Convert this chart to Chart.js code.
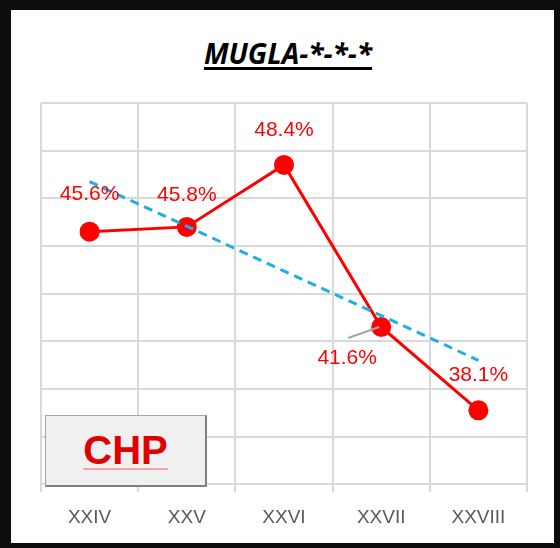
<!DOCTYPE html>
<html>
<head>
    <title>MUGLA</title>
    <script src="https://cdn.jsdelivr.net/npm/chart.js"></script>
    <style>
        html, body {
            margin: 0;
            padding: 0;
            background: #0d0d0d;
            overflow: hidden;
        }
        #inner {
            position: absolute;
            left: 11px;
            top: 10px;
            width: 543px;
            height: 533px;
            background: #ffffff;
        }
        #title {
            position: absolute;
            left: 0;
            top: 37px;
            width: 576px;
            text-align: center;
            font: italic bold 28px "Open Sans", sans-serif;
            line-height: 32px;
            color: #000;
            text-decoration: underline;
            text-decoration-thickness: 3px;
            text-underline-offset: 3px;
        }
        #wrap {
            position: absolute;
            left: 0;
            top: 0;
            width: 560px;
            height: 548px;
        }
        #badge {
            position: absolute;
            left: 45px;
            top: 415px;
            width: 159px;
            height: 69px;
            background: #f0f0f0;
            border: 1px solid #a6a6a6;
            border-right: 2px solid #7f7f7f;
            border-bottom: 2px solid #7f7f7f;
            text-align: center;
            font: bold 40px "Liberation Sans", Arial, sans-serif;
            line-height: 69px;
            color: #e00000;
            text-decoration: underline;
            text-decoration-color: #eda5a5;
            text-decoration-thickness: 2px;
            text-underline-offset: 4px;
        }
    </style>
</head>
<body>
    <div id="inner"></div>
    <div id="title">MUGLA-*-*-*</div>
    <div id="wrap"><canvas id="chart" width="560" height="548"></canvas></div>
    <div id="badge">CHP</div>

    <script>
        const categories = ['XXIV', 'XXV', 'XXVI', 'XXVII', 'XXVIII'];
        const shares = [45.6, 45.8, 48.4, 41.6, 38.1];
        // trendline end points
        const trend = [47.7, null, null, null, 40.2];
        const yMin = 35;
        const yMax = 51;
        const yStep = 2;

        // label placement relative to each point
        const labelOffsets = [[0, -37], [0, -32], [0, -35], [-34, 31], [0, -35]];

        const labelPlugin = {
            id: 'pointLabels',
            afterDatasetsDraw(chart) {
                const ctx = chart.ctx;
                const meta = chart.getDatasetMeta(1);
                ctx.save();
                meta.data.forEach((pt, i) => {
                    const [dx, dy] = labelOffsets[i];
                    if (i === 3) {
                        // leader line
                        ctx.strokeStyle = '#a6a6a6';
                        ctx.lineWidth = 2;
                        ctx.beginPath();
                        ctx.moveTo(pt.x - 33, pt.y + 11);
                        ctx.lineTo(pt.x - 2, pt.y);
                        ctx.stroke();
                    }
                    ctx.fillStyle = '#ff0000';
                    ctx.font = '21px "Liberation Sans", Arial, sans-serif';
                    ctx.textAlign = 'center';
                    ctx.textBaseline = 'middle';
                    ctx.fillText(shares[i].toFixed(1) + '%', pt.x + dx, pt.y + dy);
                });
                ctx.restore();
            }
        };

        const ctx = document.getElementById('chart').getContext('2d');
        new Chart(ctx, {
            type: 'line',
            data: {
                labels: categories,
                datasets: [{
                    label: 'Trend',
                    data: trend,
                    borderColor: '#1eaee8',
                    borderWidth: 3,
                    borderDash: [9, 6],
                    pointRadius: 0,
                    spanGaps: true,
                    fill: false,
                    order: 0
                }, {
                    label: 'MUGLA',
                    data: shares,
                    borderColor: '#ff0000',
                    backgroundColor: '#ff0000',
                    borderWidth: 3,
                    pointRadius: 10,
                    pointBorderWidth: 0,
                    fill: false,
                    order: 1
                }]
            },
            options: {
                responsive: false,
                animation: false,
                clip: false,
                layout: {
                    padding: { left: 41, right: 33, top: 103, bottom: 5 }
                },
                plugins: {
                    legend: { display: false },
                    tooltip: { enabled: false },
                    title: { display: false }
                },
                scales: {
                    x: {
                        offset: true,
                        grid: {
                            offset: true,
                            color: '#d9d9d9',
                            lineWidth: 2,
                            tickLength: 8
                        },
                        border: { color: '#d9d9d9', width: 2 },
                        ticks: {
                            color: '#595959',
                            font: { family: '"Liberation Sans", Arial, sans-serif', size: 19 },
                            padding: 14
                        }
                    },
                    y: {
                        min: yMin,
                        max: yMax,
                        ticks: { stepSize: yStep, display: false },
                        grid: { color: '#d9d9d9', lineWidth: 2, drawTicks: false },
                        border: { display: false }
                    }
                }
            },
            plugins: [labelPlugin]
        });
    </script>
</body>
</html>
